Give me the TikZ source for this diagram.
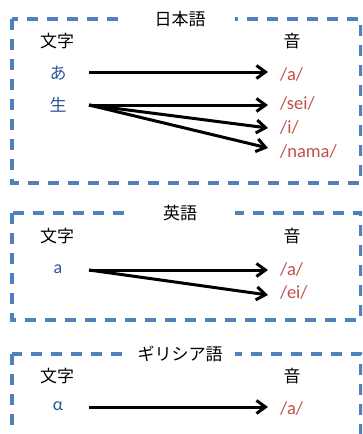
\documentclass[tikz,border=0pt]{standalone}
\usepackage{fontspec}
\setmainfont{Carlito}
\newfontfamily\jp{Noto Sans CJK JP}
\usetikzlibrary{arrows.meta}
\definecolor{boxblue}{HTML}{4F81BD}
\definecolor{charblue}{HTML}{2F5597}
\definecolor{sndred}{HTML}{C0504D}
\tikzset{
  x=1pt, y=-1pt,
  groupbox/.style={draw=boxblue, line width=3.2pt, dash pattern=on 11pt off 9pt},
  grouptitle/.style={fill=white, minimum width=110pt, inner sep=0pt, font=\jp\fontsize{17}{17}\selectfont},
  head/.style={font=\jp\fontsize{17}{17}\selectfont, inner sep=0pt},
  glyph/.style={text=charblue, font=\fontsize{18}{18}\selectfont, inner sep=0pt},
  jglyph/.style={text=charblue, font=\jp\fontsize{17}{17}\selectfont, inner sep=0pt},
  snd/.style={text=sndred, font=\fontsize{18.5}{18.5}\selectfont, anchor=west, inner sep=0pt},
  link/.style={line width=3pt, -{Straight Barb[length=9pt,width=13pt,line width=3pt]}}
}
\begin{document}
\begin{tikzpicture}
\useasboundingbox (0,0) rectangle (362,434);
\clip (0,0) rectangle (362,434);
\fill[white] (0,0) rectangle (362,434);
% Box 1
\draw[groupbox] (12,19) rectangle (361,183);
\node[grouptitle] (t1) at (180,19) {日本語};
\node[head] (m1) at (57,41) {文字};
\node[head] (s1) at (292,41) {音};
\node[jglyph] (c1a) at (58,73) {あ};
\node[jglyph] (c1b) at (58,105) {生};
\coordinate (a1s) at (89,72);
\coordinate (a2s) at (89,105);
\node[snd] (p1) at (280,74) {/a/};
\node[snd] (p2) at (280,103) {/sei/};
\node[snd] (p3) at (280,127) {/i/};
\node[snd] (p4) at (280,151) {/nama/};
\draw[link] (a1s) -- (268,72) coordinate (e1);
\draw[link] (a2s) -- (268,105) coordinate (e2);
\draw[link] (a2s) -- (268,128) coordinate (e3);
\draw[link] (a2s) -- (268,148) coordinate (e4);
% Box 2
\draw[groupbox] (12,213) rectangle (361,320);
\node[grouptitle] (t2) at (180,213) {英語};
\node[head] (m2) at (57,236) {文字};
\node[head] (s2) at (292,236) {音};
\node[glyph] (c2) at (58,269) {a};
\coordinate (b1s) at (89,270);
\node[snd] (q1) at (280,269) {/a/};
\node[snd] (q2) at (280,292) {/ei/};
\draw[link] (b1s) -- (268,270);
\draw[link] (b1s) -- (268,295);
% Box 3
\draw[groupbox] (12,354) rectangle (361,480);
\node[grouptitle] (t3) at (180,354) {ギリシア語};
\node[head] (m3) at (57,376) {文字};
\node[head] (s3) at (292,376) {音};
\node[glyph] (c3) at (58,406) {α};
\coordinate (g1s) at (89,407);
\node[snd] (r1) at (280,408) {/a/};
\draw[link] (g1s) -- (268,407);
\end{tikzpicture}
\end{document}
